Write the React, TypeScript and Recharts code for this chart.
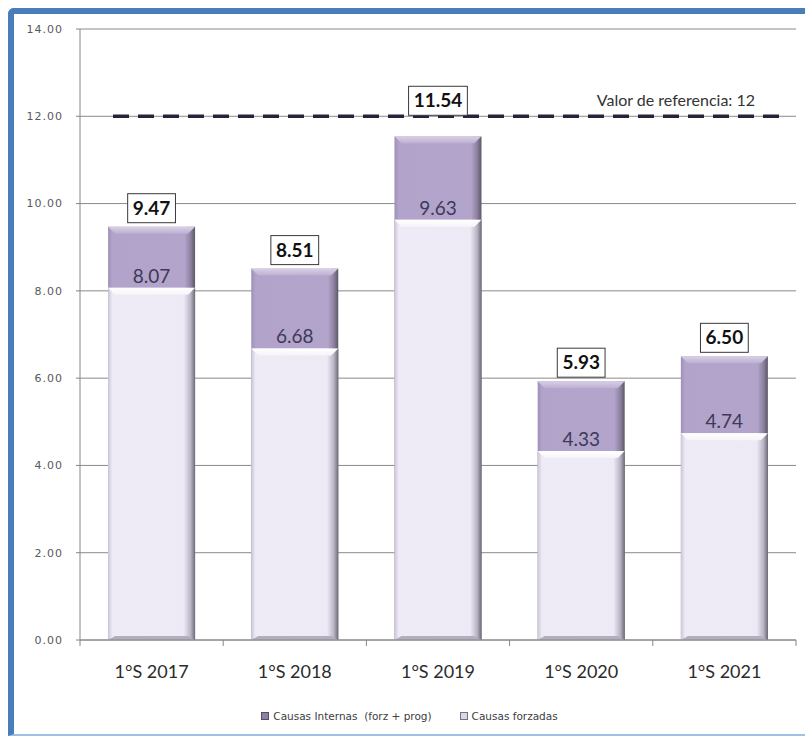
import React from 'react';
import {
  BarChart,
  Bar,
  XAxis,
  YAxis,
  CartesianGrid,
  ReferenceLine,
  Legend,
  LabelList,
} from 'recharts';

const categories = ['1°S 2017', '1°S 2018', '1°S 2019', '1°S 2020', '1°S 2021'];
const totalValues = [9.47, 8.51, 11.54, 5.93, 6.5];
const forzadasValues = [8.07, 6.68, 9.63, 4.33, 4.74];
const yTicks = [0, 2, 4, 6, 8, 10, 12, 14];
const referenceValue = 12;
const referenceLabel = 'Valor de referencia: 12';
const seriesNames = ['Causas Internas  (forz + prog)', 'Causas forzadas'];

const data = categories.map((name, i) => ({
  name,
  internas: totalValues[i],
  forzadas: forzadasValues[i],
}));

const AXIS = '#868686';

const PurpleBar = (props: any) => {
  const { x, y, width: w, height: h, index } = props;
  if (!w || !h) return null;
  const b = Math.min(7, h / 2);
  const id = `gp-${index}`;
  const idt = `gpt-${index}`;
  return (
    <g>
      <defs>
        <linearGradient id={id} x1="0" y1="0" x2="1" y2="0">
          <stop offset="0" stopColor="#9e90b8" />
          <stop offset="0.05" stopColor="#b2a3ca" />
          <stop offset="0.88" stopColor="#b3a4cb" />
          <stop offset="0.95" stopColor="#8c819f" />
          <stop offset="1" stopColor="#5c5766" />
        </linearGradient>
        <linearGradient id={idt} x1="0" y1="0" x2="0" y2="1">
          <stop offset="0" stopColor="#d9d0e6" />
          <stop offset="1" stopColor="#bcafd2" />
        </linearGradient>
      </defs>
      <rect x={x} y={y} width={w} height={h} fill={`url(#${id})`} />
      <polygon
        points={`${x},${y} ${x + w},${y} ${x + w - b},${y + b} ${x + b},${y + b}`}
        fill={`url(#${idt})`}
      />
    </g>
  );
};

const LightBar = (props: any) => {
  const { x, y, width: w, height: h, index } = props;
  if (!w || !h) return null;
  const b = Math.min(7, h / 2);
  const id = `gl-${index}`;
  const idt = `glt-${index}`;
  return (
    <g>
      <defs>
        <linearGradient id={id} x1="0" y1="0" x2="1" y2="0">
          <stop offset="0" stopColor="#cbc5d6" />
          <stop offset="0.05" stopColor="#efebf6" />
          <stop offset="0.87" stopColor="#eeeaf5" />
          <stop offset="0.95" stopColor="#b9b4c3" />
          <stop offset="1" stopColor="#6e6a77" />
        </linearGradient>
        <linearGradient id={idt} x1="0" y1="0" x2="0" y2="1">
          <stop offset="0" stopColor="#ffffff" />
          <stop offset="1" stopColor="#f6f3fa" />
        </linearGradient>
      </defs>
      <rect x={x} y={y} width={w} height={h} fill={`url(#${id})`} />
      <polygon
        points={`${x},${y} ${x + w},${y} ${x + w - b},${y + b} ${x + b},${y + b}`}
        fill={`url(#${idt})`}
      />
      <polygon
        points={`${x},${y + h} ${x + w},${y + h} ${x + w - b},${y + h - 4} ${x + b},${y + h - 4}`}
        fill="#b3aebd"
      />
    </g>
  );
};

const InnerLabel = (props: any) => {
  const { x, y, width, value } = props;
  return (
    <text
      x={x + width / 2}
      y={y - 5}
      textAnchor="middle"
      fontFamily="Lato, 'Open Sans', sans-serif"
      fontSize={19}
      fill="#3c3a58"
    >
      {Number(value).toFixed(2)}
    </text>
  );
};

const TotalLabel = (props: any) => {
  const { x, y, width, height, value } = props;
  const txt = Number(value).toFixed(2);
  const textW = txt.length === 5 ? 48.8 : 37.8;
  const boxW = textW + 10;
  const boxH = 29;
  const ppu = height / Number(value);
  const refY = y + height - referenceValue * ppu;
  let bottom = y - 4;
  if (refY > bottom - boxH - 2 && refY < bottom + 4) bottom = refY - 1;
  const cx = x + width / 2;
  return (
    <g>
      <rect
        x={cx - boxW / 2}
        y={bottom - boxH}
        width={boxW}
        height={boxH}
        fill="#ffffff"
        stroke="#3a3a3a"
        strokeWidth={1}
      />
      <text
        x={cx}
        y={bottom - 8}
        textAnchor="middle"
        fontFamily="Lato, 'Open Sans', sans-serif"
        fontWeight={700}
        fontSize={19}
        fill="#111111"
      >
        {txt}
      </text>
    </g>
  );
};

const XTick = (props: any) => {
  const { x, y, payload, index } = props;
  const off = payload && payload.offset ? payload.offset : 71.6;
  return (
    <g>
      <line x1={x - off} y1={y} x2={x - off} y2={y + 6} stroke={AXIS} />
      {index === categories.length - 1 && (
        <line x1={x + off} y1={y} x2={x + off} y2={y + 6} stroke={AXIS} />
      )}
      <text
        x={x}
        y={y + 38}
        textAnchor="middle"
        fontFamily="Lato, 'Open Sans', sans-serif"
        fontSize={18}
        fill="#2b2b2b"
      >
        {payload.value}
      </text>
    </g>
  );
};

const RefShape = (props: any) => {
  const { x1, y1, x2 } = props;
  return (
    <g>
      <line
        x1={x1 + 33}
        y1={y1}
        x2={x2 - 11}
        y2={y1}
        stroke="#25253a"
        strokeWidth={3.5}
        strokeDasharray="16 9"
      />
      <text
        x={x2 - 41}
        y={y1 - 10}
        textAnchor="end"
        fontFamily="Lato, 'Open Sans', sans-serif"
        fontSize={16}
        fill="#333333"
      >
        {referenceLabel}
      </text>
    </g>
  );
};

const LegendContent = () => {
  const icons = [
    { bg: '#8e80a8', border: '#555060' },
    { bg: '#dcd6e6', border: '#77727f' },
  ];
  return (
    <div
      style={{
        display: 'flex',
        justifyContent: 'center',
        alignItems: 'center',
        height: 20,
        fontFamily: "'DejaVu Sans', sans-serif",
        fontSize: 10.5,
        color: '#404040',
        whiteSpace: 'pre',
      }}
    >
      {seriesNames.map((n, i) => (
        <div
          key={n}
          style={{ display: 'flex', alignItems: 'center', marginRight: i === 0 ? 28 : 0 }}
        >
          <span
            style={{
              display: 'inline-block',
              width: 6,
              height: 6,
              background: icons[i].bg,
              border: `1px solid ${icons[i].border}`,
              marginRight: 4,
            }}
          />
          <span>{n}</span>
        </div>
      ))}
    </div>
  );
};

export default function App() {
  return (
    <div
      style={{
        position: 'fixed',
        left: 8,
        top: 8,
        width: 791,
        height: 720,
        borderTop: '6px solid #4a7ebb',
        borderLeft: '6px solid #4a7ebb',
        borderBottom: '2px solid #9cc0e6',
        borderTopLeftRadius: 6,
        background: '#ffffff',
      }}
    >
      <BarChart
        width={791}
        height={720}
        data={data}
        margin={{ top: 15, right: 9, bottom: 8, left: 0 }}
        barCategoryGap="19.6%"
      >
        <CartesianGrid
          vertical={false}
          stroke="#8a8a8a"
          xAxisId="front"
        />
        <XAxis
          xAxisId="front"
          dataKey="name"
          height={66}
          stroke={AXIS}
          tickLine={false}
          tickSize={0}
          tickMargin={0}
          tick={<XTick />}
          interval={0}
        />
        <XAxis xAxisId="back" dataKey="name" hide height={0} />
        <YAxis
          width={66}
          domain={[0, 14]}
          ticks={yTicks}
          tickFormatter={(v: number) => v.toFixed(2)}
          stroke={AXIS}
          tickSize={4}
          tickMargin={13}
          tick={{
            fill: '#595959',
            fontSize: 11,
            fontFamily: "'DejaVu Sans', sans-serif",
            letterSpacing: 1,
          }}
        />
        <ReferenceLine
          y={referenceValue}
          xAxisId="front"
          shape={(p: any) => <RefShape {...p} />}
        />
        <Bar
          dataKey="internas"
          name={seriesNames[0]}
          xAxisId="back"
          fill="#b3a4cb"
          shape={(p: any) => <PurpleBar {...p} />}
          isAnimationActive={false}
        >
          <LabelList dataKey="internas" content={(p: any) => <TotalLabel {...p} />} />
        </Bar>
        <Bar
          dataKey="forzadas"
          name={seriesNames[1]}
          xAxisId="front"
          fill="#efebf6"
          shape={(p: any) => <LightBar {...p} />}
          isAnimationActive={false}
        >
          <LabelList dataKey="forzadas" content={(p: any) => <InnerLabel {...p} />} />
        </Bar>
        <Legend
          verticalAlign="bottom"
          wrapperStyle={{ left: 0, width: 791 }}
          content={() => <LegendContent />}
        />
      </BarChart>
    </div>
  );
}
